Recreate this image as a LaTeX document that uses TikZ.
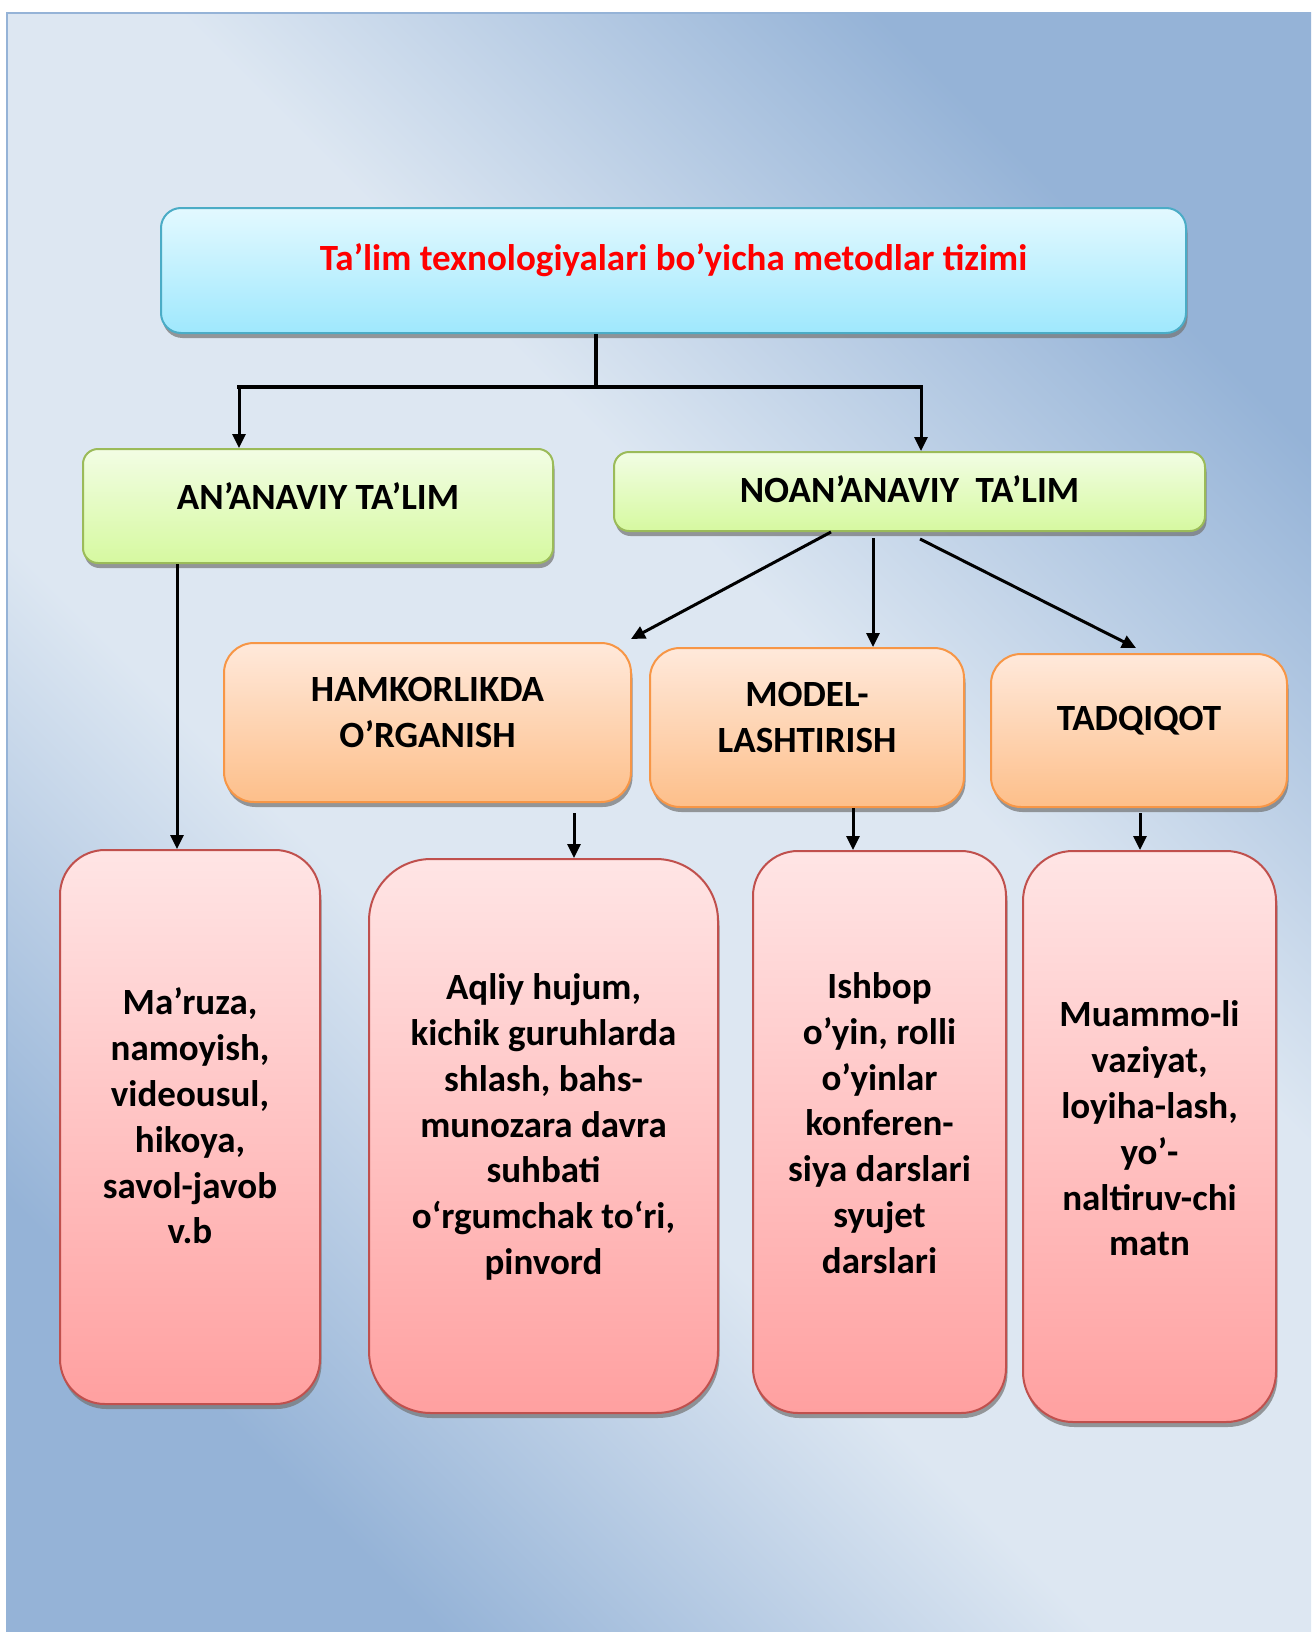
\documentclass[tikz,border=0pt]{standalone}
\usepackage{fontspec}
\setmainfont{Carlito}
\usetikzlibrary{shadows,arrows.meta,calc}
\definecolor{bgdark}{HTML}{95B3D7}
\definecolor{bglight}{HTML}{DDE7F2}
\definecolor{tTop}{HTML}{E3F9FF}
\definecolor{tBot}{HTML}{9FE8FD}
\definecolor{tLine}{HTML}{4BACC6}
\definecolor{gTop}{HTML}{F2FDE4}
\definecolor{gBot}{HTML}{D6F9A0}
\definecolor{gLine}{HTML}{9BBB59}
\definecolor{oTop}{HTML}{FFE9DB}
\definecolor{oBot}{HTML}{FDBF8A}
\definecolor{oLine}{HTML}{F79646}
\definecolor{pTop}{HTML}{FFE5E5}
\definecolor{pBot}{HTML}{FFA0A0}
\definecolor{pLine}{HTML}{C0504D}
\definecolor{titlered}{HTML}{FF0000}
\pgfdeclareverticalshading{bgshade}{100bp}{color(0bp)=(bgdark); color(25bp)=(bgdark); color(41bp)=(bglight); color(58bp)=(bglight); color(75bp)=(bgdark); color(100bp)=(bgdark)}
\tikzset{
  boxbase/.style={rounded corners=#1, line width=2pt, inner sep=0pt,
    drop shadow={shadow xshift=1.5pt, shadow yshift=-5pt, fill=black!55, opacity=.7}},
  titlebox/.style={boxbase=20pt, draw=tLine, top color=tTop, bottom color=tBot},
  greenbox/.style={boxbase=15pt, draw=gLine, top color=gTop, bottom color=gBot},
  orangebox/.style={boxbase=30pt, draw=oLine, top color=oTop, bottom color=oBot},
  pinkbox/.style={boxbase=#1, draw=pLine, top color=pTop, bottom color=pBot},
  lbl/.style={font=\fontsize{37}{45.8}\selectfont\bfseries, align=center, inner sep=0pt, yshift=10pt},
  conn/.style={line width=3pt, black},
  arr/.style={conn, -{Triangle[length=14pt,width=13pt]}},
}
\begin{document}
\begin{tikzpicture}[x=1pt,y=-1pt]
\useasboundingbox (0,0) rectangle (1311,1632);
\fill[white] (0,0) rectangle (1311,1632);
\shade[shading=bgshade, shading angle=-45] (7,13) rectangle (1311,1632);
\draw[bgdark, line width=2pt] (1311,13) -- (7,13) -- (7,1632);

% boxes
\node[titlebox, minimum width=1025pt, minimum height=125pt,
  label={[lbl,text=titlered]center:{Ta’lim texnologiyalari bo’yicha metodlar tizimi}}] (title) at (673.5,270.5) {};
\node[greenbox, minimum width=470pt, minimum height=114pt,
  label={[lbl]center:{AN’ANAVIY TA’LIM}}] (g1) at (318,506) {};
\node[greenbox, minimum width=591pt, minimum height=79pt,
  label={[lbl,yshift=-8pt]center:{NOAN’ANAVIY\ \ TA’LIM}}] (g2) at (909.5,491.5) {};
\node[orangebox, minimum width=407pt, minimum height=159pt,
  label={[lbl]center:{HAMKORLIKDA\\O’RGANISH}}] (h) at (427.5,722.5) {};
\node[orangebox, minimum width=314pt, minimum height=159pt,
  label={[lbl]center:{MODEL-\\LASHTIRISH}}] (m) at (807,727.5) {};
\node[orangebox, minimum width=296pt, minimum height=153pt,
  label={[lbl]center:{TADQIQOT}}] (t) at (1139,730.5) {};

\node[pinkbox=45pt, minimum width=260pt, minimum height=554pt,
  label={[lbl,yshift=1pt]center:{Ma’ruza,\\namoyish,\\videousul,\\hikoya,\\savol-javob\\v.b}}] (p1) at (190,1127) {};
\node[pinkbox=62pt, minimum width=349pt, minimum height=554pt,
  label={[lbl,yshift=-1pt]center:{Aqliy hujum,\\kichik guruhlarda\\shlash, bahs-\\munozara davra\\suhbati\\o‘rgumchak to‘ri,\\pinvord}}] (p2) at (543.5,1136) {};
\node[pinkbox=45pt, minimum width=253pt, minimum height=562pt,
  label={[lbl,yshift=-1pt]center:{Ishbop\\o’yin, rolli\\o’yinlar\\konferen-\\siya darslari\\syujet\\darslari}}] (p3) at (879.5,1132) {};
\node[pinkbox=50pt, minimum width=253pt, minimum height=571pt,
  label={[lbl,yshift=-2pt]center:{Muammo-li\\vaziyat,\\loyiha-lash,\\yo’-\\naltiruv-chi\\matn}}] (p4) at (1149.5,1136.5) {};

% tree from title
\coordinate (j) at ($(title.south west)+(436,0)$);
\coordinate (jm) at ($(j)+(0,54)$);
\coordinate (cl) at (239,387);
\coordinate (cr) at (921,387);
\draw[line width=3.5pt] (j) -- (jm);
\draw[line width=3.5pt, line cap=rect] (cl) -- (cr);
\draw[arr] (cl) -- (cl |- g1.north);
\draw[arr] (cr) -- (cr |- g2.north);

% from NOAN'ANAVIY
\coordinate (s1) at ($(g2.south west)+(218,0)$);
\coordinate (s2) at ($(g2.south west)+(260,6)$);
\coordinate (s3) at ($(g2.south west)+(307,7)$);
\draw[arr] (s1) -- ($(h.north east)+(-1,-3)$);
\draw[arr] (s2) -- (s2 |- m.north);
\draw[arr] (s3) -- ($(t.north)+(-3,-5)$);

% down arrows
\coordinate (d1) at ($(g1.south west)+(95,0)$);
\coordinate (d2) at ($(h.south west)+(351,10)$);
\coordinate (d3) at ($(m.south west)+(204,0)$);
\coordinate (d4) at ($(t.south west)+(150,5)$);
\draw[arr] (d1) -- (d1 |- p1.north);
\draw[arr] (d2) -- (d2 |- p2.north);
\draw[arr] (d3) -- (d3 |- p3.north);
\draw[arr] (d4) -- (d4 |- p4.north);
\end{tikzpicture}
\end{document}
